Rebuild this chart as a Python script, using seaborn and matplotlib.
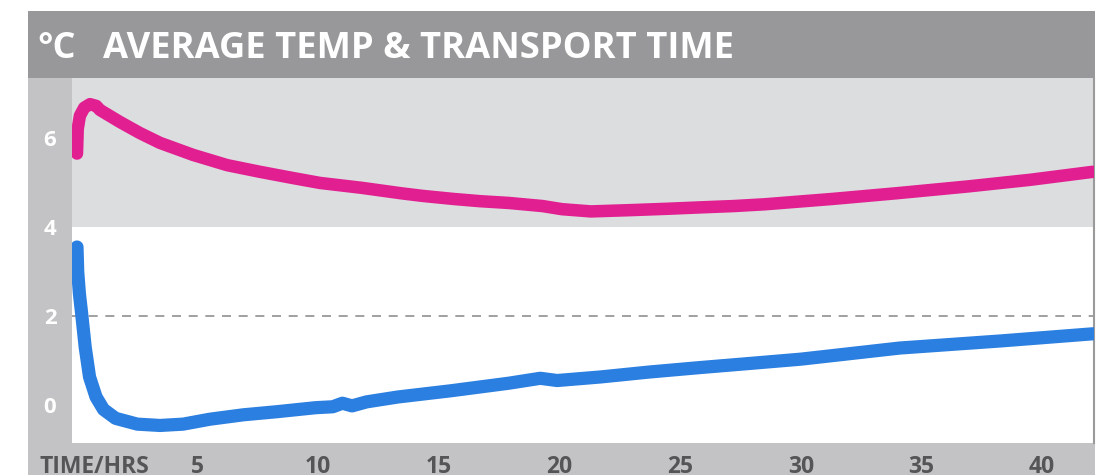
import matplotlib
matplotlib.use("Agg")
import matplotlib.pyplot as plt
import seaborn as sns
import pandas as pd
from matplotlib.patches import Rectangle

# ---- data ----
hours_pink = [0.0, 0.03, 0.12, 0.3, 0.54, 0.8, 0.95, 1.78, 2.61, 3.44, 4.81, 6.22,
              7.58, 8.95, 10.07, 11.8, 13.4, 14.3, 15.6, 16.7, 17.9, 19.3, 20.1,
              21.3, 23.0, 24.5, 25.8, 27.2, 28.5, 31.3, 34.0, 36.9, 39.5, 42.1]
temp_pink = [5.65, 6.2, 6.5, 6.68, 6.76, 6.72, 6.63, 6.36, 6.11, 5.89, 5.62, 5.39,
             5.24, 5.10, 4.99, 4.88, 4.76, 4.70, 4.63, 4.58, 4.54, 4.47, 4.40,
             4.35, 4.38, 4.41, 4.44, 4.47, 4.51, 4.63, 4.76, 4.91, 5.06, 5.24]

hours_blue = [0.0, 0.03, 0.1, 0.19, 0.34, 0.52, 0.79, 1.1, 1.6, 2.5, 3.44, 4.4,
              5.5, 6.9, 8.3, 9.9, 10.6, 11.0, 11.4, 12.0, 13.3, 15.5, 17.9, 19.2,
              19.9, 21.7, 23.7, 25.8, 27.8, 30.0, 34.1, 38.3, 42.1]
temp_blue = [3.55, 3.0, 2.5, 2.07, 1.3, 0.63, 0.18, -0.1, -0.3, -0.43, -0.46, -0.43,
             -0.32, -0.22, -0.15, -0.06, -0.04, 0.04, -0.02, 0.07, 0.18, 0.32, 0.49, 0.60,
             0.55, 0.63, 0.74, 0.84, 0.93, 1.03, 1.28, 1.44, 1.60]

x_ticks = [5, 10, 15, 20, 25, 30, 35, 40]
x_tick_labels = ["5", "10", "15", "20", "25", "30", "35", "40"]
y_ticks = [0, 2, 4, 6]
y_tick_labels = ["0", "2", "4", "6"]
unit_text = "°C"
title_text = "AVERAGE TEMP & TRANSPORT TIME"
x_axis_text = "TIME/HRS"
dashed_level = 2
band_bottom = 4

# ---- style ----
PINK = "#e21f91"
BLUE = "#2b7fe0"
HEADER = "#98989a"
STRIP = "#c3c3c5"
BAND = "#dcdddf"

sns.set_style("white")
plt.rcParams["font.family"] = ["Open Sans", "DejaVu Sans"]
plt.rcParams["lines.scale_dashes"] = False

W, H = 1096, 475
fig = plt.figure(figsize=(W / 100, H / 100), dpi=100)
fig.patch.set_facecolor("white")

def rect(x0, y0, x1, y1, color):
    fig.add_artist(Rectangle((x0 / W, 1 - y1 / H), (x1 - x0) / W, (y1 - y0) / H,
                             transform=fig.transFigure, color=color, lw=0, zorder=0))

rect(28, 11, 1095, 78, HEADER)
rect(28, 78, 72, 475, STRIP)
rect(28, 443, 1095, 475, STRIP)

ax = fig.add_axes([72 / W, (H - 443) / H, 1022 / W, 365 / H])
ax.set_facecolor("white")
ax.set_xlim(-0.207, 42.15)
ax.set_ylim(-0.854, 7.348)

ax.axhspan(band_bottom, 7.348, color=BAND, lw=0, zorder=0)
ax.axhline(dashed_level, color="#999999", lw=1.3, dashes=(6.5, 5.5), zorder=1)

df_pink = pd.DataFrame({"hours": hours_pink, "temp": temp_pink})
df_blue = pd.DataFrame({"hours": hours_blue, "temp": temp_blue})
sns.lineplot(data=df_pink, x="hours", y="temp", ax=ax, color=PINK, lw=9,
             estimator=None, sort=False, solid_capstyle="round", zorder=3)
sns.lineplot(data=df_blue, x="hours", y="temp", ax=ax, color=BLUE, lw=9.5,
             estimator=None, sort=False, solid_capstyle="round", zorder=3)

ax.set_xlabel("")
ax.set_ylabel("")
for s in ["top", "left", "bottom"]:
    ax.spines[s].set_visible(False)
ax.spines["right"].set_visible(True)
ax.spines["right"].set_color("#9a9a9a")
ax.spines["right"].set_linewidth(1.5)

ax.set_xticks(x_ticks, x_tick_labels)
ax.set_yticks(y_ticks, y_tick_labels)
ax.tick_params(axis="x", length=0, pad=21.5, labelsize=16.5, labelcolor="#555558")
ax.tick_params(axis="y", length=0, pad=15.8, labelsize=16, labelcolor="white")
for t in ax.get_xticklabels():
    t.set_fontweight("bold")
    t.set_va("baseline")
for t in ax.get_yticklabels():
    t.set_fontweight("bold")
    t.set_ha("center")
    t.set_va("center_baseline")

fig.text(40 / W, 1 - 473 / H, x_axis_text, fontsize=16.5, fontweight="bold",
         color="#555558", ha="left", va="baseline")
fig.text(37 / W, 1 - 58 / H, unit_text, fontsize=26, fontweight="bold",
         color="white", ha="left", va="baseline")
fig.text(103 / W, 1 - 58 / H, title_text, fontsize=26.2, fontweight="bold",
         color="white", ha="left", va="baseline")

fig.savefig("out.png", dpi=100)
